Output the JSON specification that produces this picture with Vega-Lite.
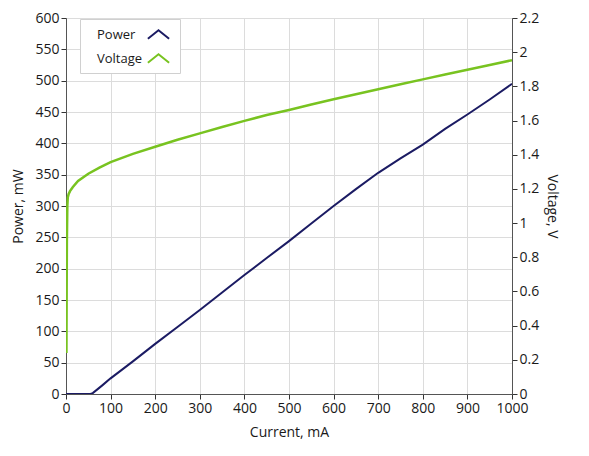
{
  "$schema": "https://vega.github.io/schema/vega-lite/v6.json",
  "width": 446,
  "height": 376,
  "autosize": {"type": "none"},
  "padding": {"left": 66, "top": 18, "right": 77, "bottom": 62},
  "background": "white",
  "datasets": {
    "power": [
      {"current": 0, "value": 0, "series": "Power"},
      {"current": 20, "value": 0, "series": "Power"},
      {"current": 40, "value": 0, "series": "Power"},
      {"current": 55, "value": 0, "series": "Power"},
      {"current": 60, "value": 1.5, "series": "Power"},
      {"current": 80, "value": 13, "series": "Power"},
      {"current": 100, "value": 25, "series": "Power"},
      {"current": 150, "value": 52, "series": "Power"},
      {"current": 200, "value": 80, "series": "Power"},
      {"current": 250, "value": 107, "series": "Power"},
      {"current": 300, "value": 134, "series": "Power"},
      {"current": 350, "value": 162, "series": "Power"},
      {"current": 400, "value": 190, "series": "Power"},
      {"current": 450, "value": 217, "series": "Power"},
      {"current": 500, "value": 244, "series": "Power"},
      {"current": 550, "value": 272, "series": "Power"},
      {"current": 600, "value": 300, "series": "Power"},
      {"current": 650, "value": 327, "series": "Power"},
      {"current": 700, "value": 353, "series": "Power"},
      {"current": 750, "value": 376, "series": "Power"},
      {"current": 800, "value": 398, "series": "Power"},
      {"current": 850, "value": 423, "series": "Power"},
      {"current": 900, "value": 446, "series": "Power"},
      {"current": 950, "value": 470, "series": "Power"},
      {"current": 1000, "value": 495, "series": "Power"}
    ],
    "voltage": [
      {"current": 1, "value": 0.24, "series": "Voltage"},
      {"current": 1.5, "value": 0.6, "series": "Voltage"},
      {"current": 2, "value": 0.9, "series": "Voltage"},
      {"current": 3, "value": 1.1, "series": "Voltage"},
      {"current": 4, "value": 1.15, "series": "Voltage"},
      {"current": 6, "value": 1.17, "series": "Voltage"},
      {"current": 9, "value": 1.187, "series": "Voltage"},
      {"current": 15, "value": 1.21, "series": "Voltage"},
      {"current": 27, "value": 1.246, "series": "Voltage"},
      {"current": 50, "value": 1.289, "series": "Voltage"},
      {"current": 75, "value": 1.325, "series": "Voltage"},
      {"current": 100, "value": 1.357, "series": "Voltage"},
      {"current": 150, "value": 1.405, "series": "Voltage"},
      {"current": 200, "value": 1.447, "series": "Voltage"},
      {"current": 250, "value": 1.488, "series": "Voltage"},
      {"current": 300, "value": 1.525, "series": "Voltage"},
      {"current": 350, "value": 1.562, "series": "Voltage"},
      {"current": 400, "value": 1.598, "series": "Voltage"},
      {"current": 450, "value": 1.632, "series": "Voltage"},
      {"current": 500, "value": 1.662, "series": "Voltage"},
      {"current": 550, "value": 1.694, "series": "Voltage"},
      {"current": 600, "value": 1.725, "series": "Voltage"},
      {"current": 650, "value": 1.754, "series": "Voltage"},
      {"current": 700, "value": 1.783, "series": "Voltage"},
      {"current": 750, "value": 1.812, "series": "Voltage"},
      {"current": 800, "value": 1.841, "series": "Voltage"},
      {"current": 850, "value": 1.869, "series": "Voltage"},
      {"current": 900, "value": 1.897, "series": "Voltage"},
      {"current": 950, "value": 1.925, "series": "Voltage"},
      {"current": 1000, "value": 1.953, "series": "Voltage"}
    ]
  },
  "encoding": {
    "x": {
      "field": "current",
      "type": "quantitative",
      "title": "Current, mA",
      "scale": {"domain": [0, 1000], "nice": false},
      "axis": {"format": "d", "values": [0, 100, 200, 300, 400, 500, 600, 700, 800, 900, 1000], "titlePadding": 10}
    },
    "color": {
      "field": "series",
      "type": "nominal",
      "scale": {"domain": ["Power", "Voltage"], "range": ["#1b1b63", "#78c320"]},
      "legend": {
        "title": null,
        "orient": "none",
        "legendX": 14,
        "legendY": 1,
        "symbolType": "M-1.25,0.5L0,-0.5L1.25,0.5",
        "symbolSize": 289,
        "symbolStrokeWidth": 2,
        "symbolFillColor": "transparent",
        "symbolOffset": 63,
        "labelAlign": "left",
        "labelOffset": -71,
        "labelFontSize": 13,
        "rowPadding": 6,
        "padding": 6,
        "fillColor": "white",
        "strokeColor": "#d0d0d0"
      }
    }
  },
  "layer": [
    {
      "data": {"name": "power"},
      "mark": {"type": "line", "strokeWidth": 2, "clip": true},
      "encoding": {
        "y": {
          "field": "value",
          "type": "quantitative",
          "title": "Power, mW",
          "scale": {"domain": [0, 600], "nice": false},
          "axis": {"orient": "left", "values": [0, 50, 100, 150, 200, 250, 300, 350, 400, 450, 500, 550, 600], "titlePadding": 9}
        }
      }
    },
    {
      "data": {"name": "voltage"},
      "mark": {"type": "line", "strokeWidth": 2.5, "clip": true},
      "encoding": {
        "y": {
          "field": "value",
          "type": "quantitative",
          "title": "Voltage, V",
          "scale": {"domain": [0, 2.2], "nice": false},
          "axis": {"orient": "right", "grid": false, "format": ".1~f", "values": [0, 0.2, 0.4, 0.6, 0.8, 1, 1.2, 1.4, 1.6, 1.8, 2, 2.2], "titlePadding": 6}
        }
      }
    }
  ],
  "resolve": {"scale": {"y": "independent"}},
  "config": {
    "font": "Open Sans",
    "view": {"stroke": "#555555", "strokeWidth": 1},
    "axis": {
      "labelFont": "Open Sans",
      "titleFont": "Open Sans",
      "labelFontSize": 14,
      "titleFontSize": 14,
      "titleFontWeight": "normal",
      "labelColor": "#1a1a1a",
      "titleColor": "#1a1a1a",
      "domainColor": "#555555",
      "tickColor": "#333333",
      "tickSize": 5,
      "labelPadding": 2,
      "gridColor": "#dcdcdc",
      "gridOpacity": 1,
      "labelOverlap": false,
      "labelFlush": false
    },
    "legend": {"labelFont": "Open Sans", "labelColor": "#1a1a1a"}
  }
}
